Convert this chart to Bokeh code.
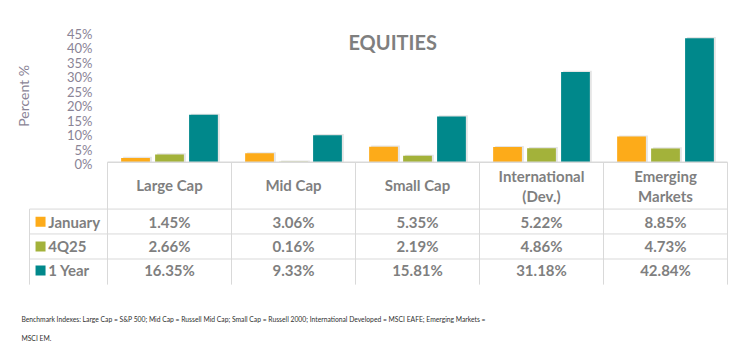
from bokeh.plotting import figure
from bokeh.models import Range1d
from bokeh.core.properties import value
from bokeh.embed import file_html
from bokeh.resources import INLINE

# ---- data ----
categories = ["Large Cap", "Mid Cap", "Small Cap", "International (Dev.)", "Emerging Markets"]
header_lines = [["Large Cap"], ["Mid Cap"], ["Small Cap"], ["International", "(Dev.)"], ["Emerging", "Markets"]]
series_names = ["January", "4Q25", "1 Year"]
january = [1.45, 3.06, 5.35, 5.22, 8.85]
q4_25 = [2.66, 0.16, 2.19, 4.86, 4.73]
one_year = [16.35, 9.33, 15.81, 31.18, 42.84]
y_ticks = [0, 5, 10, 15, 20, 25, 30, 35, 40, 45]
title = "EQUITIES"
y_label = "Percent %"
footnote = ["Benchmark Indexes: Large Cap = S&P 500; Mid Cap = Russell Mid Cap; Small Cap = Russell 2000; International Developed = MSCI EAFE; Emerging Markets =",
            "MSCI EM."]

colors = ["#FDAB19", "#A3B23A", "#00888B"]
GRAY = "#7F7F7F"
LINE = "#D9D9D9"
FONT = "Lato"

W, H = 747, 349
p = figure(width=W, height=H, output_backend="svg", toolbar_location=None,
           x_range=Range1d(-1.3629, 4.6613), y_range=Range1d(-64.72, 55.87),
           min_border=0, outline_line_color=None)
p.axis.visible = False
p.xgrid.visible = False
p.ygrid.visible = False
p.background_fill_color = "white"
p.border_fill_color = "white"

n = len(categories)
idx = list(range(n))
series = [january, q4_25, one_year]
offsets = [-0.274, 0.0, 0.274]
bw = 0.232

# bars with soft shadow
for vals, off, col in zip(series, offsets, colors):
    xs = [i + off for i in idx]
    p.vbar(x=[x + 0.016 for x in xs], top=[v + 0.4 for v in vals], bottom=0, width=bw,
           fill_color="#000000", fill_alpha=0.10, line_color=None)
    p.vbar(x=xs, top=vals, bottom=0, width=bw, fill_color=col, line_color=None)

# ---- table ----
y_hdr_top = 0.0
y_hdr_bot = -16.2
row_bounds = [-16.2, -24.8, -33.45, -42.3]
row_text_y = [-20.6, -29.1, -37.4]
x_leg_left = -1.129

p.segment(x0=[-0.5], y0=[y_hdr_top], x1=[n - 0.5], y1=[y_hdr_top], line_color=LINE, line_width=1.5)
p.segment(x0=[x_leg_left] * 3, y0=row_bounds[:3], x1=[n - 0.5] * 3, y1=row_bounds[:3],
          line_color=LINE, line_width=1)
p.segment(x0=[i - 0.5 for i in range(n + 1)], y0=[y_hdr_top] * (n + 1),
          x1=[i - 0.5 for i in range(n + 1)], y1=[row_bounds[-1]] * (n + 1),
          line_color=LINE, line_width=1)
p.segment(x0=[x_leg_left], y0=[y_hdr_bot], x1=[x_leg_left], y1=[row_bounds[-1]],
          line_color=LINE, line_width=1)

# header texts
for i, lines in enumerate(header_lines):
    ys = [-8.0] if len(lines) == 1 else [-4.9, -11.6]
    p.text(x=[i] * len(lines), y=ys, text=lines, text_font=value(FONT), text_font_style="bold",
           text_font_size="15px", text_color=GRAY, text_align="center", text_baseline="middle")

# values
for vals, ry in zip(series, row_text_y):
    p.text(x=idx, y=[ry] * n, text=["%.2f%%" % v for v in vals], text_font=value(FONT),
           text_font_style="bold", text_font_size="15px", text_color=GRAY,
           text_align="center", text_baseline="middle")

# legend column
p.scatter(x=[-1.040] * 3, y=row_text_y, marker="square", size=10, fill_color=colors, line_color=None)
p.text(x=[-0.978] * 3, y=row_text_y, text=series_names, text_font=value(FONT), text_font_style="bold",
       text_font_size="15px", text_color=GRAY, text_align="left", text_baseline="middle")

# y tick labels
p.text(x=[-0.621] * len(y_ticks), y=y_ticks, text=["%d%%" % t for t in y_ticks], text_font=value(FONT),
       text_font_size="13px", text_color="#8A8496", text_align="right", text_baseline="middle", y_offset=2)

# y label
p.text(x=[-1.177], y=[22.9], text=[y_label], angle=1.5708, text_font=value(FONT),
       text_font_size="14px", text_color="#8A8496", text_align="center", text_baseline="middle")

# title
p.text(x=[1.80], y=[41.7], text=[title], text_font=value(FONT), text_font_style="bold",
       text_font_size="20px", text_color=GRAY, text_align="center", text_baseline="middle")

# footnote
p.text(x=[-1.194] * 2, y=[-54.35, -60.9], text=footnote, text_font=value(FONT),
       text_font_size="6.75px", text_color="#2F2F2F", text_align="left", text_baseline="middle")

open("out.html", "w").write(file_html(p, INLINE))
